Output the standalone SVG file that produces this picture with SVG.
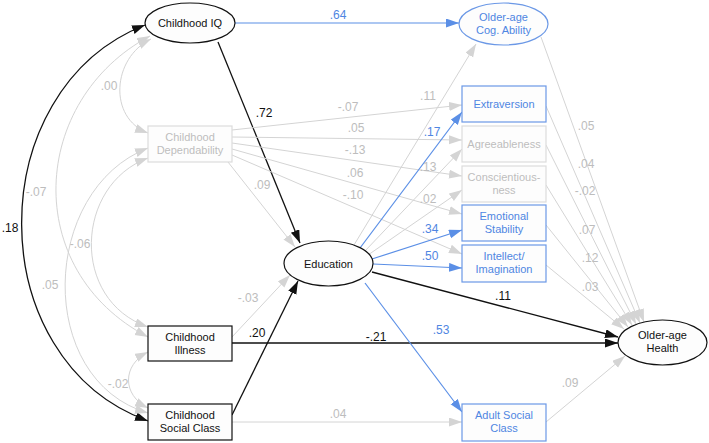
<svg xmlns="http://www.w3.org/2000/svg" width="709" height="443" viewBox="0 0 709 443">
<style>
.bg{fill:#ffffff}
.n{fill:#fdfdfd;stroke:#111;stroke-width:1.2}
.ng{fill:#fdfdfd;stroke:#dcdcdc;stroke-width:1.2}
.nb{fill:#fdfdfd;stroke:#6b98e6;stroke-width:1.2}
text{font-family:"Liberation Sans",Arial,sans-serif;font-size:11px;text-anchor:middle}
.t{fill:#111}
.tg{fill:#bdbdbd}
.tb{fill:#4f86e2}
.e{fill:none;stroke:#111;stroke-width:1.3;marker-end:url(#ak)}
.eg{fill:none;stroke:#d4d4d4;stroke-width:1;marker-end:url(#ag)}
.eb{fill:none;stroke:#5b8fe6;stroke-width:1.2;marker-end:url(#ab)}
.ck{fill:none;stroke:#111;stroke-width:1.3;marker-start:url(#ak);marker-end:url(#ak)}
.cg{fill:none;stroke:#d4d4d4;stroke-width:1;marker-start:url(#ag);marker-end:url(#ag)}
.l{font-size:12px}
</style>
<defs>
<marker id="ak" markerUnits="userSpaceOnUse" markerWidth="14" markerHeight="10" refX="13" refY="4.5" orient="auto-start-reverse"><path d="M0,0 L13,4.5 L0,9 z" fill="#111"/></marker>
<marker id="ag" markerUnits="userSpaceOnUse" markerWidth="14" markerHeight="10" refX="13" refY="4.5" orient="auto-start-reverse"><path d="M0,0 L13,4.5 L0,9 z" fill="#d4d4d4"/></marker>
<marker id="ab" markerUnits="userSpaceOnUse" markerWidth="14" markerHeight="10" refX="13" refY="4.5" orient="auto-start-reverse"><path d="M0,0 L13,4.5 L0,9 z" fill="#5b8fe6"/></marker>
</defs>
<rect class="bg" x="0" y="0" width="709" height="443"/>
<g id="connectors">
<!-- covariances -->
<path class="ck" d="M145,25 C-20,90 -20,360 148,421"/>
<path class="cg" d="M150,36 C30,100 20,270 148,337"/>
<path class="cg" d="M151,39 C112,58 108,118 148,133"/>
<path class="cg" d="M148,148 C40,190 35,380 148,413"/>
<path class="cg" d="M148,158 C75,185 70,300 148,327"/>
<path class="cg" d="M148,352 C122,365 122,395 148,408"/>
<!-- regressions -->
<path class="eb" d="M235,23 L459,23"/>
<path class="e" d="M218,42 L300,243"/>
<path class="eg" d="M228,162 L295,247"/>
<path class="eg" d="M232,337 L290,275"/>
<path class="e" d="M232,415 L298,281"/>
<path class="e" d="M232,343 L618,343"/>
<path class="eg" d="M232,422 L462,422"/>
<path class="e" d="M372,272 L618,337"/>
<path class="eb" d="M365,283 L462,412"/>
<path class="eg" d="M232,130 L462,105"/>
<path class="eg" d="M232,137 L462,140"/>
<path class="eg" d="M232,143 L462,176"/>
<path class="eg" d="M232,149 L462,214"/>
<path class="eg" d="M232,155 L462,254"/>
<path class="eg" d="M354,245 L476,44"/>
<path class="eb" d="M360,248 L462,112"/>
<path class="eg" d="M365,251 L462,149"/>
<path class="eg" d="M368,255 L462,190"/>
<path class="eb" d="M372,259 L462,230"/>
<path class="eb" d="M373,264 L462,268"/>
<path class="eg" d="M541,37 L644,322"/>
<path class="eg" d="M546,106 L640,323"/>
<path class="eg" d="M546,145 L636,324"/>
<path class="eg" d="M546,185 L632,325"/>
<path class="eg" d="M546,225 L628,327"/>
<path class="eg" d="M546,265 L624,329"/>
<path class="eg" d="M546,422 L625,356"/>
<!-- labels -->
<text class="tg l" x="109" y="90">.00</text>
<text class="tg l" x="36" y="196">-.07</text>
<text class="t l" x="10" y="232">.18</text>
<text class="tg l" x="80" y="248">-.06</text>
<text class="tg l" x="50" y="289">.05</text>
<text class="tg l" x="118" y="388">-.02</text>
<text class="t l" x="264" y="117">.72</text>
<text class="tg l" x="262" y="189">.09</text>
<text class="tg l" x="248" y="302">-.03</text>
<text class="t l" x="257" y="337">.20</text>
<text class="t l" x="376" y="341">-.21</text>
<text class="tg l" x="338" y="418">.04</text>
<text class="tb l" x="338" y="19">.64</text>
<text class="tg l" x="428" y="100">.11</text>
<text class="tb l" x="432" y="136">.17</text>
<text class="tg l" x="428" y="171">.13</text>
<text class="tg l" x="428" y="203">.02</text>
<text class="tb l" x="430" y="233">.34</text>
<text class="tb l" x="430" y="260">.50</text>
<text class="tb l" x="441" y="334">.53</text>
<text class="t l" x="503" y="300">.11</text>
<text class="tg l" x="348" y="111">-.07</text>
<text class="tg l" x="356" y="132">.05</text>
<text class="tg l" x="355" y="154">-.13</text>
<text class="tg l" x="355" y="177">.06</text>
<text class="tg l" x="353" y="199">-.10</text>
<text class="tg l" x="586" y="130">.05</text>
<text class="tg l" x="586" y="168">.04</text>
<text class="tg l" x="585" y="195">-.02</text>
<text class="tg l" x="587" y="234">.07</text>
<text class="tg l" x="590" y="262">.12</text>
<text class="tg l" x="590" y="291">.03</text>
<text class="tg l" x="570" y="387">.09</text>
</g>
<g id="childhood-iq"><ellipse class="n" cx="190" cy="23" rx="45" ry="20"/><text class="t" x="190" y="27">Childhood IQ</text></g>
<g id="childhood-dependability"><rect class="ng" x="148" y="126" width="84" height="36"/><text class="tg" x="190" y="141">Childhood</text><text class="tg" x="190" y="154">Dependability</text></g>
<g id="childhood-illness"><rect class="n" x="148" y="326" width="84" height="35"/><text class="t" x="190" y="341">Childhood</text><text class="t" x="190" y="354">Illness</text></g>
<g id="childhood-social-class"><rect class="n" x="148" y="404" width="84" height="36"/><text class="t" x="190" y="419">Childhood</text><text class="t" x="190" y="432">Social Class</text></g>
<g id="education"><ellipse class="n" cx="328.5" cy="263.5" rx="44.5" ry="22.5"/><text class="t" x="328.5" y="267.5">Education</text></g>
<g id="older-age-cog-ability"><ellipse class="nb" cx="503.5" cy="24" rx="44.5" ry="21"/><text class="tb" x="503.5" y="21">Older-age</text><text class="tb" x="503.5" y="34">Cog. Ability</text></g>
<g id="extraversion"><rect class="nb" x="462" y="86" width="84" height="36"/><text class="tb" x="504" y="108">Extraversion</text></g>
<g id="agreeableness"><rect class="ng" x="462" y="126" width="84" height="36"/><text class="tg" x="504" y="148">Agreeableness</text></g>
<g id="conscientiousness"><rect class="ng" x="462" y="166" width="84" height="36"/><text class="tg" x="504" y="181">Conscientious-</text><text class="tg" x="504" y="194">ness</text></g>
<g id="emotional-stability"><rect class="nb" x="462" y="205" width="84" height="36"/><text class="tb" x="504" y="220">Emotional</text><text class="tb" x="504" y="233">Stability</text></g>
<g id="intellect-imagination"><rect class="nb" x="462" y="245" width="84" height="37"/><text class="tb" x="504" y="260">Intellect/</text><text class="tb" x="504" y="273">Imagination</text></g>
<g id="adult-social-class"><rect class="nb" x="462" y="404" width="84" height="37"/><text class="tb" x="504" y="419">Adult Social</text><text class="tb" x="504" y="432">Class</text></g>
<g id="older-age-health"><ellipse class="n" cx="662.5" cy="342.5" rx="44.5" ry="22.5"/><text class="t" x="662.5" y="339">Older-age</text><text class="t" x="662.5" y="352">Health</text></g>
</svg>
